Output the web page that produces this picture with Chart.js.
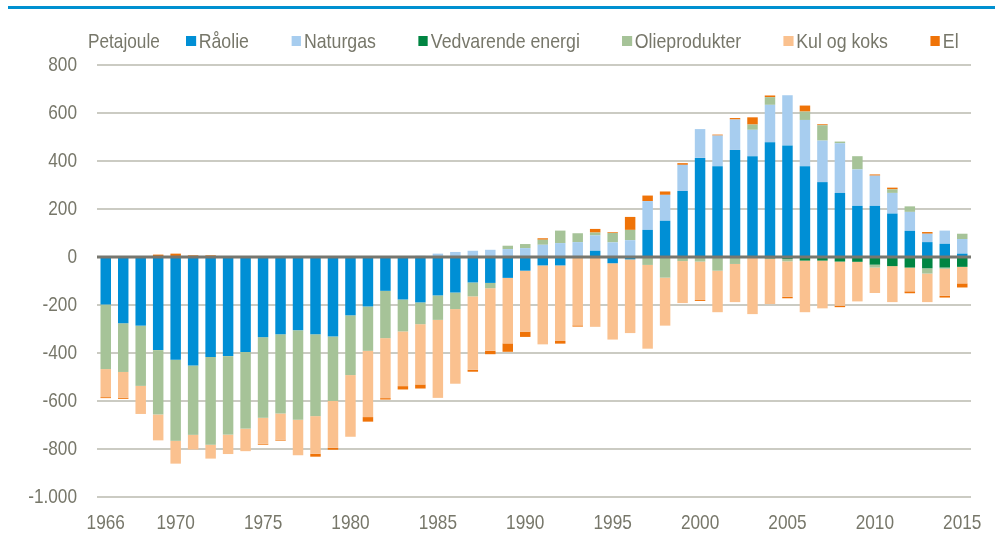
<!DOCTYPE html>
<html lang="da">
<head>
<meta charset="utf-8">
<title>Nettoimport af energi</title>
<script src="https://cdn.jsdelivr.net/npm/chart.js@4.4.1/dist/chart.umd.min.js"></script>
<style>
  html, body { margin: 0; padding: 0; background: #fff; }
  #wrap { position: relative; width: 995px; height: 539px; overflow: hidden; }
  #topline { position: absolute; left: 8px; right: 0; top: 6px; height: 3px; background: #0090d0; }
  #chart { position: absolute; left: 0; top: 0; }
  /* Arial Narrow look: Liberation Sans squeezed */
  .txt { font-family: "Liberation Sans", Arial, sans-serif; font-size: 21px; color: #77776a;
         line-height: 24px; white-space: nowrap; transform: scaleX(0.82); transform-origin: 0 50%; }
  #unit { position: absolute; left: 88px; top: 29px; }
  #legend { position: absolute; left: 186px; top: 29px; display: flex; gap: 50px; transform: scaleX(0.845); }
  .item { display: flex; align-items: center; }
  .box { width: 11.5px; height: 10px; margin-right: 3.5px; }
</style>
</head>
<body>
<div id="wrap">
  <div id="topline"></div>
  <canvas id="chart" width="995" height="539"></canvas>
  <div id="unit" class="txt">Petajoule</div>
  <div id="legend" class="txt"></div>
</div>
<script>
const years = ['1966','1967','1968','1969','1970','1971','1972','1973','1974','1975',
  '1976','1977','1978','1979','1980','1981','1982','1983','1984','1985',
  '1986','1987','1988','1989','1990','1991','1992','1993','1994','1995',
  '1996','1997','1998','1999','2000','2001','2002','2003','2004','2005',
  '2006','2007','2008','2009','2010','2011','2012','2013','2014','2015'];

const xTickYears = ['1966','1970','1975','1980','1985','1990','1995','2000','2005','2010','2015'];

// Petajoule, nettoimport (+) / nettoeksport (-)
const raolie = [-198,-276,-286,-388,-428,-452,-417,-413,-396,-334,
  -322,-305,-322,-331,-243,-206,-141,-177,-189,-160,
  -148,-106,-108,-87,-57,-35,-35,0,26,-26,
  -10,113,151,275,413,378,446,420,478,465,
  378,312,267,213,213,181,109,62,55,14];

const naturgas = [0,0,0,0,0,0,0,0,0,0,
  0,0,0,0,0,0,0,0,5,14,
  21,26,30,33,37,51,58,62,64,61,
  70,120,108,109,120,128,127,110,156,209,
  193,173,207,152,126,86,79,35,55,61];

const vedvarende = [0,0,0,0,0,0,0,0,0,0,
  0,0,0,0,0,0,0,0,0,0,
  0,0,0,0,0,0,0,0,0,0,
  0,0,0,0,0,0,0,0,-6,-8,
  -15,-15,-19,-20,-32,-38,-44,-47,-44,-41];

const olie = [-269,-203,-251,-268,-338,-289,-365,-327,-319,-336,
  -330,-373,-341,-269,-249,-185,-197,-133,-91,-102,
  -69,-58,-22,14,17,21,52,37,12,39,
  43,-33,-86,-17,-19,-57,-29,22,32,-10,
  35,64,7,55,-12,15,23,-22,-5,22];

const kul = [-117,-108,-117,-108,-95,-61,-58,-81,-94,-108,
  -109,-148,-157,-195,-257,-276,-250,-228,-251,-325,
  -311,-306,-261,-273,-254,-329,-315,-285,-291,-318,
  -307,-349,-200,-175,-160,-173,-159,-238,-190,-148,
  -215,-199,-184,-165,-106,-150,-99,-119,-113,-69];

const el = [-4,-4,0,10,14,7,7,0,0,-4,
  -4,0,-12,-8,4,-19,-6,-14,-17,0,
  0,-8,-14,-35,-22,6,-11,-5,15,3,
  54,23,14,7,-4,4,6,30,7,-6,
  25,4,-6,0,5,7,-8,7,-7,-17];

const FONT = '21px "Liberation Sans", Arial, sans-serif';
const TXT = '#77776a';

const series = [
  { label: 'Råolie', data: raolie, color: '#008fd5' },
  { label: 'Naturgas', data: naturgas, color: '#a7cdef' },
  { label: 'Vedvarende energi', data: vedvarende, color: '#008542' },
  { label: 'Olieprodukter', data: olie, color: '#a6c398' },
  { label: 'Kul og koks', data: kul, color: '#fac18f' },
  { label: 'El', data: el, color: '#ef7308' }
];

// legend
const legendEl = document.getElementById('legend');
for (const s of series) {
  const it = document.createElement('div');
  it.className = 'item';
  const b = document.createElement('span');
  b.className = 'box';
  b.style.background = s.color;
  const t = document.createElement('span');
  t.textContent = s.label;
  it.appendChild(b); it.appendChild(t);
  legendEl.appendChild(it);
}

function fmtDa(v) {
  const s = Math.abs(v).toString().replace(/\B(?=(\d{3})+(?!\d))/g, '.');
  return (v < 0 ? '-' : '') + s;
}

function narrowText(ctx, text, px, py, align) {
  ctx.save();
  ctx.translate(px, py);
  ctx.scale(0.82, 1);
  ctx.textAlign = align;
  ctx.fillText(text, 0, 0);
  ctx.restore();
}

// zero line on top of the bars + narrow tick labels
const extras = {
  id: 'extras',
  afterDatasetsDraw(chart) {
    const { ctx, chartArea, scales } = chart;
    const y = scales.y.getPixelForValue(0);
    ctx.save();
    ctx.strokeStyle = '#77776f';
    ctx.lineWidth = 3;
    ctx.beginPath();
    ctx.moveTo(chartArea.left, y);
    ctx.lineTo(chartArea.right, y);
    ctx.stroke();
    ctx.restore();
  },
  afterDraw(chart) {
    const { ctx, scales: { x, y } } = chart;
    ctx.save();
    ctx.fillStyle = TXT;
    ctx.font = FONT;
    ctx.textBaseline = 'middle';
    y.ticks.forEach((t, i) => {
      narrowText(ctx, fmtDa(t.value), y.right - 20, y.getPixelForTick(i), 'right');
    });
    x.ticks.forEach((t, i) => {
      const l = x.getLabelForValue(t.value);
      if (xTickYears.includes(l)) narrowText(ctx, l, x.getPixelForTick(i), x.top + 26, 'center');
    });
    ctx.restore();
  }
};

new Chart(document.getElementById('chart').getContext('2d'), {
  type: 'bar',
  data: {
    labels: years,
    datasets: series.map(s => ({
      label: s.label, data: s.data, backgroundColor: s.color,
      borderWidth: 0, barPercentage: 0.6, categoryPercentage: 1.0
    }))
  },
  options: {
    responsive: false, animation: false,
    layout: { padding: { top: 65, right: 24, bottom: 0, left: 0 } },
    plugins: { legend: { display: false }, tooltip: { enabled: false } },
    scales: {
      x: {
        stacked: true,
        grid: { display: false, drawTicks: false },
        border: { display: false },
        afterFit: (s) => { s.height = 42; },
        ticks: { display: false, autoSkip: false }
      },
      y: {
        stacked: true, min: -1000, max: 800,
        grid: { color: '#cbcbc3', lineWidth: 2, drawTicks: false },
        border: { display: false },
        afterFit: (s) => { s.width = 97; },
        ticks: { display: false, stepSize: 200 }
      }
    }
  },
  plugins: [extras]
});
</script>
</body>
</html>
